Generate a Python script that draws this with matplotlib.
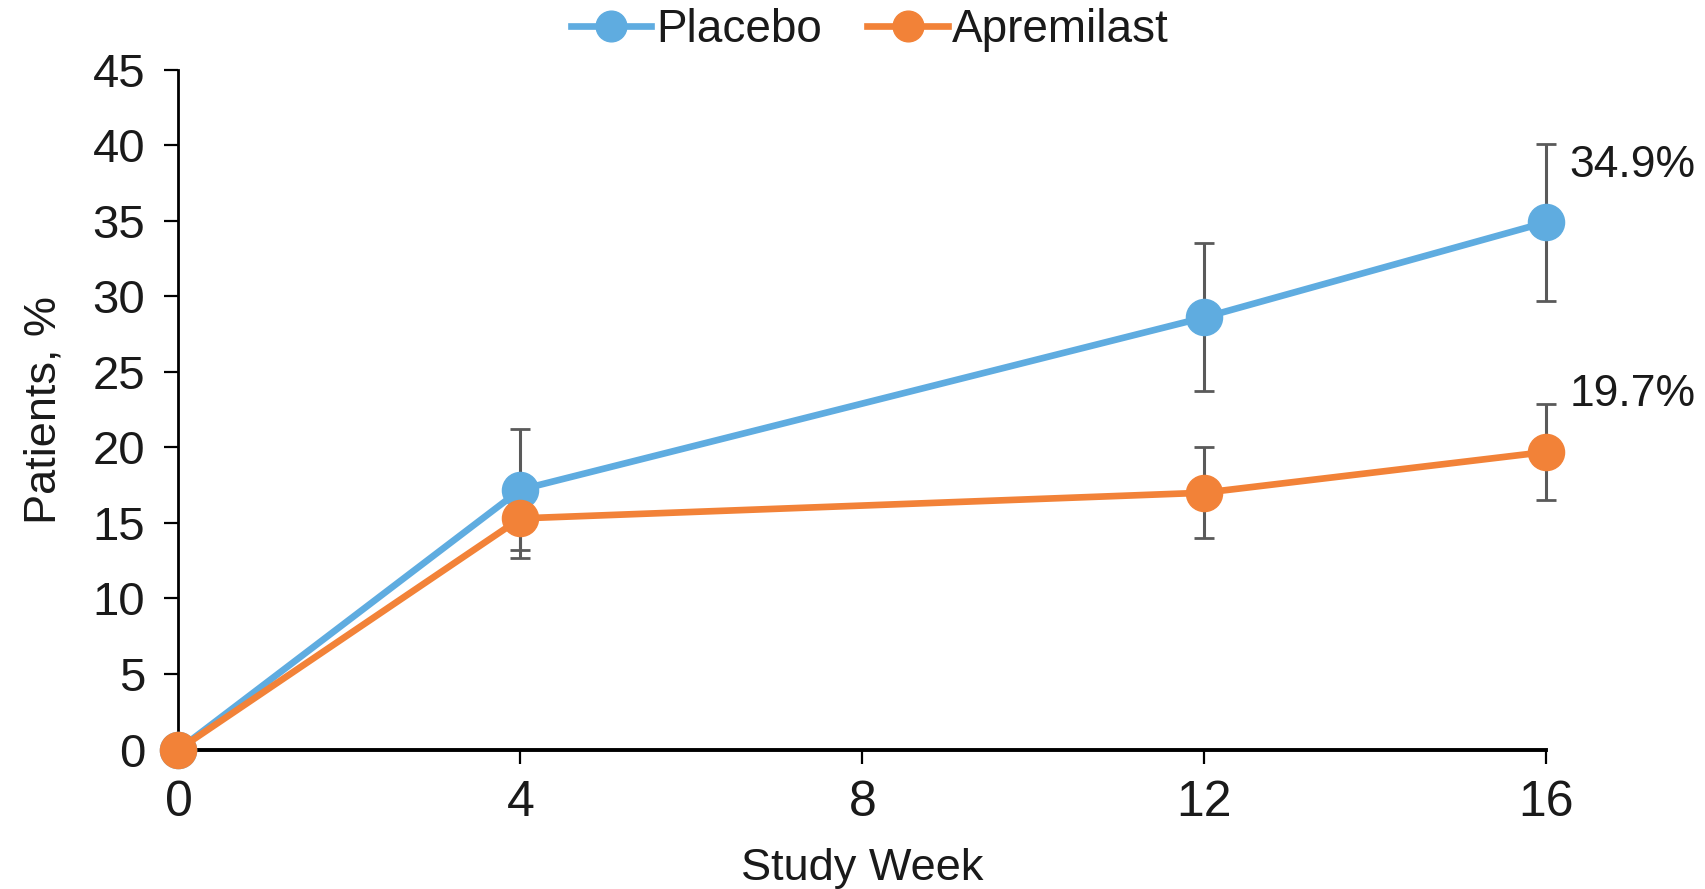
import matplotlib.pyplot as plt

plt.rcParams['font.family'] = ['Liberation Sans', 'DejaVu Sans']

# study weeks and response rates (%)
weeks = [0, 4, 12, 16]
placebo = [0, 17.2, 28.6, 34.9]
placebo_err = [0, 4.0, 4.9, 5.2]
apremilast = [0, 15.3, 17.0, 19.7]
apremilast_err = [0, 2.6, 3.0, 3.2]

blue = '#5FACE0'
orange = '#F28238'
err_color = '#5A5A5A'
text_color = '#1A1A1A'

fig = plt.figure(figsize=(17.06, 8.89), dpi=100)
ax = fig.add_axes([0.1046, 0.1568, 0.8017, 0.7649])

# error bars first so the markers sit on top
for y, e in [(placebo, placebo_err), (apremilast, apremilast_err)]:
    bars = ax.errorbar(weeks[1:], y[1:], yerr=e[1:], fmt='none', ecolor=err_color,
                       elinewidth=2.2, capsize=7.5, capthick=2.0, zorder=2)
    for artist in bars.get_children():
        artist.set_clip_on(False)

ax.plot(weeks, placebo, color=blue, lw=4.8, marker='o', ms=26,
        label='Placebo', zorder=3, clip_on=False)
ax.plot(weeks, apremilast, color=orange, lw=4.8, marker='o', ms=26,
        label='Apremilast', zorder=4, clip_on=False)

# end-of-study values
ax.annotate(f'{placebo[-1]:.1f}%', (weeks[-1], placebo[-1]), xytext=(23, 57),
            textcoords='offset pixels', ha='left', va='center', fontsize=32,
            color=text_color)
ax.annotate(f'{apremilast[-1]:.1f}%', (weeks[-1], apremilast[-1]), xytext=(23, 57),
            textcoords='offset pixels', ha='left', va='center', fontsize=32,
            color=text_color)

ax.set_xlim(0, 16)
ax.set_ylim(0, 45)
ax.set_xticks([0, 4, 8, 12, 16])
ax.set_yticks(range(0, 46, 5))
ax.spines['top'].set_visible(False)
ax.spines['right'].set_visible(False)
ax.spines['left'].set_linewidth(2)
ax.spines['bottom'].set_linewidth(2.8)
ax.tick_params(axis='both', direction='out', length=10, width=1.6,
               labelsize=34, labelcolor=text_color)
ax.tick_params(axis='y', pad=14)
ax.tick_params(axis='x', pad=12)
for lbl in ax.get_xticklabels():
    lbl.set_fontsize(36)

ax.set_xlabel('Study Week', fontsize=32.5, labelpad=16, color=text_color)
ax.set_ylabel('Patients, %', fontsize=32.5, labelpad=20, color=text_color)

fig.legend(loc='upper center', bbox_to_anchor=(0.51, 1.037), ncol=2, frameon=False,
           fontsize=33, handlelength=1.75, handletextpad=0.1, columnspacing=1.0,
           markerscale=0.85, labelcolor=text_color)

fig.savefig('out.png', dpi=100)
